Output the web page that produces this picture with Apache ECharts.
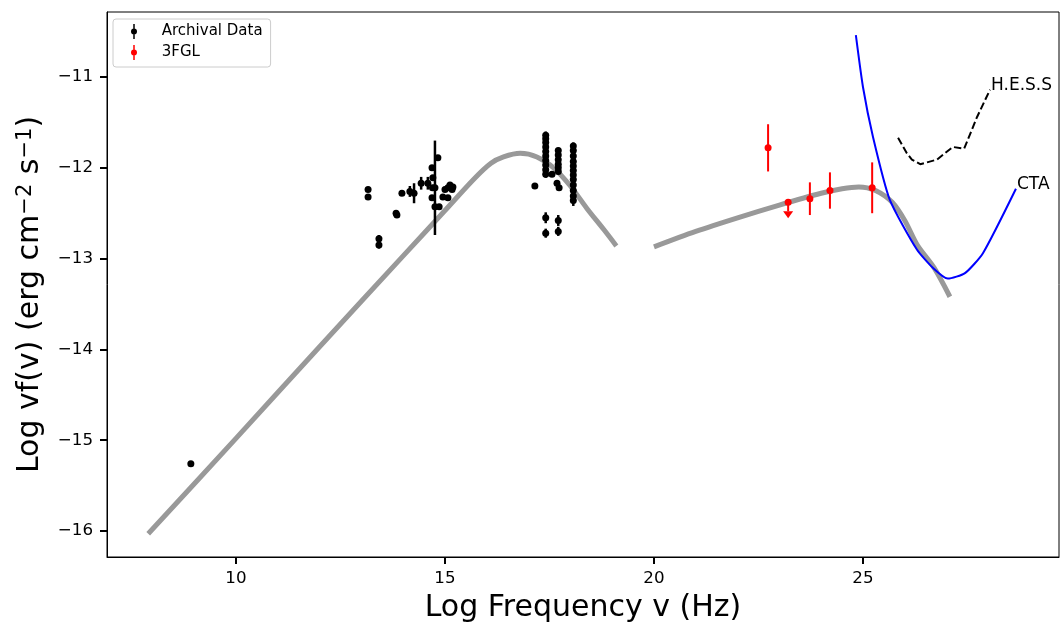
<!DOCTYPE html>
<html>
<head>
<meta charset="utf-8">
<title>SED</title>
<script src="https://cdn.jsdelivr.net/npm/echarts@6/dist/echarts.min.js"></script>
<style>
  html, body { margin: 0; padding: 0; background: #ffffff; }
  #chart { width: 1061px; height: 628px; }
</style>
</head>
<body>
<div id="chart"></div>
<script>
// ---- Model curves (log frequency in Hz, log nuF_nu in erg cm^-2 s^-1) ----
const syncX = [7.9, 10, 12, 14, 15, 15.7, 16.1, 16.4, 16.8, 17.2, 17.6, 18.0, 18.4, 18.8, 19.1];
const syncY = [-16.03, -14.98, -13.97, -12.97, -12.47, -12.12, -11.95, -11.88, -11.84, -11.88, -12.0, -12.2, -12.45, -12.68, -12.86];

const icX = [20.0, 21, 22, 23, 24, 24.5, 24.9, 25.3, 25.7, 26.0, 26.3, 26.7, 27.08];
const icY = [-12.87, -12.70, -12.55, -12.41, -12.28, -12.23, -12.21, -12.25, -12.38, -12.58, -12.85, -13.10, -13.42];

// ---- Instrument sensitivity curves ----
const ctaX = [24.83, 25.0, 25.24, 25.64, 26.29, 26.67, 27.03, 27.44, 27.87, 28.66];
const ctaY = [-10.54, -11.11, -11.66, -12.35, -12.90, -13.10, -13.22, -13.16, -12.94, -12.23];

const hessX = [25.84, 26.05, 26.17, 26.37, 26.77, 27.15, 27.42, 27.73, 28.04];
const hessY = [-11.67, -11.84, -11.91, -11.96, -11.91, -11.77, -11.79, -11.44, -11.14];

// ---- Archival data points (x, y, symmetric y error) ----
const archX = [8.92, 13.16, 13.16, 13.42, 13.42, 13.83, 13.85, 13.97, 14.16, 14.26, 14.43, 14.59,
  14.76, 14.83, 14.69, 14.71, 14.70, 14.69, 14.76, 14.86, 14.95, 15.00, 15.07, 15.12, 15.17, 15.07, 15.19,
  17.15,
  17.41, 17.41, 17.41, 17.41, 17.41, 17.41, 17.41, 17.41, 17.41, 17.41, 17.41, 17.41,
  17.71, 17.71, 17.71, 17.71, 17.71, 17.71, 17.56, 17.68, 17.73, 17.71, 17.71,
  18.07, 18.07, 18.07, 18.07, 18.07, 18.07, 18.07, 18.07, 18.07, 18.07, 18.07, 18.07];
const archY = [-15.26, -12.24, -12.32, -12.78, -12.85, -12.50, -12.52, -12.28, -12.26, -12.28, -12.17, -12.17,
  -12.22, -11.89, -12.00, -12.11, -12.22, -12.33, -12.43, -12.43, -12.32, -12.24, -12.22, -12.19, -12.24, -12.33, -12.21,
  -12.20,
  -11.64, -11.68, -11.72, -11.77, -11.82, -11.87, -11.92, -11.97, -12.02, -12.07, -12.55, -12.72,
  -11.81, -11.86, -11.91, -11.96, -12.00, -12.04, -12.07, -12.17, -12.22, -12.58, -12.70,
  -11.76, -11.81, -11.87, -11.93, -11.98, -12.03, -12.08, -12.13, -12.19, -12.25, -12.31, -12.36];
const archErr = [0, 0.03, 0.03, 0.04, 0.04, 0, 0, 0, 0.06, 0.11, 0.07, 0.07,
  0.52, 0, 0.03, 0.03, 0.03, 0.03, 0.03, 0, 0, 0, 0, 0, 0, 0, 0,
  0,
  0.04, 0.03, 0.03, 0.03, 0.03, 0.03, 0.03, 0.03, 0.03, 0.04, 0.06, 0.05,
  0.03, 0.03, 0.03, 0.03, 0.03, 0.03, 0, 0, 0, 0.06, 0.05,
  0.04, 0.03, 0.03, 0.03, 0.03, 0.03, 0.03, 0.03, 0.03, 0.03, 0.03, 0.06];

// ---- 3FGL points ----
const fglX = [22.73, 23.73, 24.21, 25.22];
const fglY = [-11.78, -12.34, -12.25, -12.22];
const fglErr = [0.26, 0.18, 0.20, 0.28];
const fglLimX = [23.21];
const fglLimY = [-12.38];

// ---- Axes ----
const xTicks = [10, 15, 20, 25];
const yTicks = [-16, -15, -14, -13, -12, -11];

const FONT = 'DejaVu Sans';
const zip2 = (xs, ys) => xs.map((x, i) => [x, ys[i]]);
const zip3 = (xs, ys, es) => xs.map((x, i) => [x, ys[i], es[i]]);

function errorBars(color, width) {
  return function (params, api) {
    const x = api.value(0), y = api.value(1), e = api.value(2);
    if (!e) return null;
    const a = api.coord([x, y + e]);
    const b = api.coord([x, y - e]);
    return {
      type: 'line',
      shape: { x1: a[0], y1: a[1], x2: b[0], y2: b[1] },
      style: { stroke: color, lineWidth: width }
    };
  };
}

function upperLimitArrow(params, api) {
  const p = api.coord([api.value(0), api.value(1)]);
  const len = 16, head = 7, half = 5;
  return {
    type: 'group',
    children: [
      { type: 'line', shape: { x1: p[0], y1: p[1], x2: p[0], y2: p[1] + len - head }, style: { stroke: '#ff0000', lineWidth: 2 } },
      { type: 'polygon', shape: { points: [[p[0] - half, p[1] + len - head], [p[0] + half, p[1] + len - head], [p[0], p[1] + len]] }, style: { fill: '#ff0000' } }
    ]
  };
}

const markerIcon = 'path://M4,0 H6 V20 H4 Z M1,10 A4,4 0 1,1 9,10 A4,4 0 1,1 1,10 Z';
const minus = v => String(v).replace('-', '\u2212');

const chart = echarts.init(document.getElementById('chart'), null, { renderer: 'canvas' });

chart.setOption({
  animation: false,
  backgroundColor: '#ffffff',
  textStyle: { fontFamily: FONT },
  grid: {
    left: 107, right: 2, top: 12, bottom: 71,
    outerBoundsMode: 'none',
    containLabel: false,
    show: true, borderColor: '#000000', borderWidth: 1, backgroundColor: 'transparent'
  },
  legend: {
    data: [
      { name: 'Archival Data', icon: markerIcon },
      { name: '3FGL', icon: markerIcon }
    ],
    orient: 'vertical',
    left: 113, top: 19,
    padding: [5, 8, 7, 18],
    itemWidth: 7.5, itemHeight: 15, itemGap: 6,
    borderColor: '#cccccc', borderWidth: 1, borderRadius: 3,
    backgroundColor: '#ffffff',
    selectedMode: false,
    itemStyle: { opacity: 1 },
    textStyle: { fontFamily: FONT, fontSize: 15, color: '#000000', padding: [0, 0, 0, 19] }
  },
  xAxis: {
    type: 'value',
    min: 6.914, max: 29.69,
    name: 'Log Frequency v (Hz)',
    nameLocation: 'middle',
    nameGap: 36,
    nameMoveOverlap: false,
    nameTextStyle: { fontFamily: FONT, fontSize: 30, color: '#000000' },
    axisLine: { show: true, onZero: false, lineStyle: { color: '#000000', width: 1 } },
    axisTick: { show: true, customValues: xTicks, length: 7, lineStyle: { color: '#000000', width: 2 } },
    axisLabel: { customValues: xTicks, fontFamily: FONT, fontSize: 16.7, color: '#000000', margin: 13 },
    splitLine: { show: false }
  },
  yAxis: {
    type: 'value',
    min: -16.286, max: -10.284,
    name: '{a|Log vf(v) (erg cm}{s|\u22122}{a| s}{s|\u22121}{a|)}',
    nameLocation: 'middle',
    nameGap: 62,
    nameMoveOverlap: false,
    nameTextStyle: {
      fontFamily: FONT, fontSize: 30, color: '#000000',
      padding: [0, 20, 0, 0],
      rich: {
        a: { fontFamily: FONT, fontSize: 30, lineHeight: 30, verticalAlign: 'bottom', color: '#000000' },
        s: { fontFamily: FONT, fontSize: 21, lineHeight: 21, verticalAlign: 'top', padding: [0, 0, 22, 0], color: '#000000' }
      }
    },
    axisLine: { show: true, onZero: false, lineStyle: { color: '#000000', width: 1 } },
    axisTick: { show: true, customValues: yTicks, length: 7, lineStyle: { color: '#000000', width: 2 } },
    axisLabel: { customValues: yTicks, fontFamily: FONT, fontSize: 16.7, color: '#000000', margin: 14, formatter: minus },
    splitLine: { show: false }
  },
  series: [
    {
      name: 'sync', type: 'line', data: zip2(syncX, syncY), showSymbol: false, silent: true, z: 2,
      smooth: 0.3,
      lineStyle: { color: '#999999', width: 5, cap: 'butt', join: 'round' }
    },
    {
      name: 'ic', type: 'line', data: zip2(icX, icY), showSymbol: false, silent: true, z: 2,
      smooth: 0.3,
      lineStyle: { color: '#999999', width: 5, cap: 'butt', join: 'round' }
    },
    {
      name: 'CTA', type: 'line', data: zip2(ctaX, ctaY), showSymbol: false, silent: true, z: 3,
      smooth: 0.2,
      lineStyle: { color: '#0000ff', width: 2 },
      endLabel: { show: true, formatter: 'CTA', fontFamily: FONT, fontSize: 17, color: '#000000', distance: 1, offset: [0, -4] }
    },
    {
      name: 'H.E.S.S', type: 'line', data: zip2(hessX, hessY), showSymbol: false, silent: true, z: 3,
      lineStyle: { color: '#000000', width: 2, type: [7.4, 3.2] },
      endLabel: { show: true, formatter: 'H.E.S.S', fontFamily: FONT, fontSize: 17, color: '#000000', distance: 1, offset: [0, -4] }
    },
    {
      name: 'archErr', type: 'custom', data: zip3(archX, archY, archErr), z: 4, silent: true,
      encode: { x: 0, y: 1 }, renderItem: errorBars('#000000', 2.5)
    },
    {
      name: 'Archival Data', type: 'scatter', data: zip2(archX, archY), z: 5, silent: true,
      symbol: 'circle', symbolSize: 7, itemStyle: { color: '#000000', opacity: 1 }
    },
    {
      name: 'fglErr', type: 'custom', data: zip3(fglX, fglY, fglErr), z: 4, silent: true,
      encode: { x: 0, y: 1 }, renderItem: errorBars('#ff0000', 2)
    },
    {
      name: 'fglLimit', type: 'custom', data: zip2(fglLimX, fglLimY), z: 4, silent: true,
      encode: { x: 0, y: 1 }, renderItem: upperLimitArrow
    },
    {
      name: '3FGL', type: 'scatter', data: zip2(fglX, fglY).concat(zip2(fglLimX, fglLimY)), z: 5, silent: true,
      symbol: 'circle', symbolSize: 7, itemStyle: { color: '#ff0000', opacity: 1 }
    }
  ]
});
</script>
</body>
</html>
